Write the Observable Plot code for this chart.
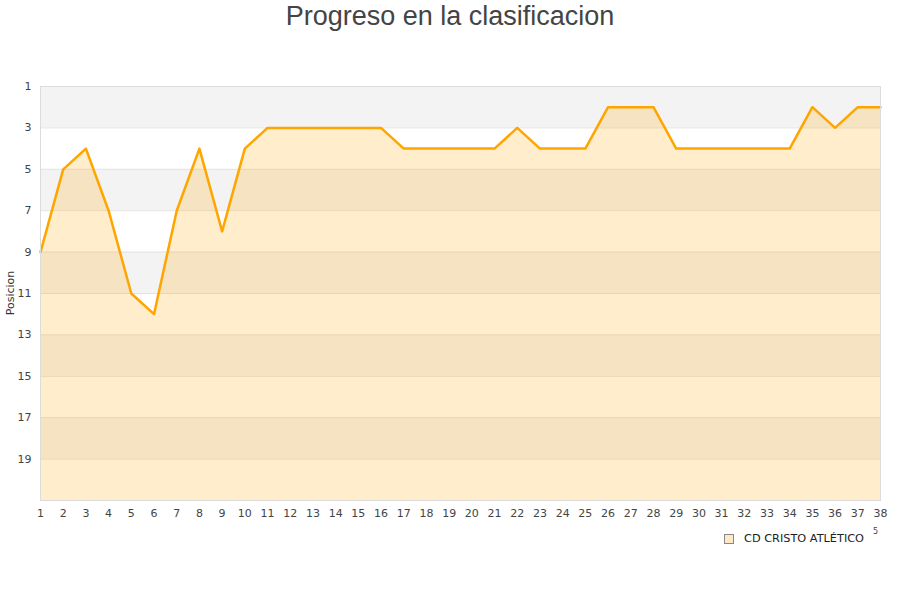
<!DOCTYPE html>
<html>
<head>
<meta charset="utf-8">
<script src="https://cdn.jsdelivr.net/npm/d3@7"></script>
<script src="https://cdn.jsdelivr.net/npm/@observablehq/plot@0.6"></script>
<style>
  body { margin: 0; background: #fff; }
  #wrap { position: relative; width: 900px; height: 600px; overflow: hidden; }
  #title { position: absolute; top: 0; left: 0; width: 900px; text-align: center; font-family: "Liberation Sans", Arial, sans-serif; font-size: 27px; color: #444; line-height: 32px; }
  #legend { position: absolute; left: 724px; top: 532px; font-family: "DejaVu Sans", sans-serif; font-size: 11.3px; color: #222; display: flex; align-items: center; }
  #legend .sw { width: 8px; height: 8px; background: #fde9c6; border: 1px solid #888; margin-right: 10px; }
  #extra { position: absolute; left: 873px; top: 527px; font-family: "DejaVu Sans", sans-serif; font-size: 8px; color: #444; }
  #ylabel { position: absolute; left: 10px; top: 293px; transform: translate(-50%, -50%) rotate(-90deg); font-family: "DejaVu Sans", sans-serif; font-size: 11px; color: #333; white-space: nowrap; }
  svg { position: absolute; top: 0; left: 0; }
</style>
</head>
<body>
<div id="wrap">
  <div id="chart"></div>
  <div id="title">Progreso en la clasificacion</div>
  <div id="ylabel">Posicion</div>
  <div id="legend"><div class="sw"></div><span>CD CRISTO ATLÉTICO</span></div>
  <div id="extra">5</div>
</div>
<script>
const jornadas = d3.range(1, 39);
const posiciones = [9,5,4,7,11,12,7,4,8,4,3,3,3,3,3,3,4,4,4,4,4,3,4,4,4,2,2,2,4,4,4,4,4,4,2,3,2,2];
const yTicks = [1,3,5,7,9,11,13,15,17,19];
const bandStarts = [1,5,9,13,17];
const yMin = 1, yMax = 21;
const teamName = "CD CRISTO ATLÉTICO";

const data = jornadas.map((j, i) => ({jornada: j, pos: posiciones[i]}));
const bands = bandStarts.map(s => ({y1: s, y2: s + 2}));

const chart = Plot.plot({
  width: 900,
  height: 600,
  marginTop: 86,
  marginBottom: 100,
  marginLeft: 40,
  marginRight: 20,
  style: { fontFamily: "DejaVu Sans, sans-serif", fontSize: "11px", color: "#444", background: "transparent" },
  x: { domain: [1, 38], ticks: jornadas, tickSize: 0, tickPadding: 9, label: null, tickFormat: d => d },
  y: { domain: [yMin, yMax], reverse: true, ticks: yTicks, tickSize: 0, tickPadding: 9, label: null },
  marks: [
    Plot.rect(bands, { x1: 1, x2: 38, y1: "y1", y2: "y2", fill: "#f3f3f3" }),
    Plot.ruleY(yTicks, { stroke: "#e3e3e3", strokeWidth: 1 }),
    Plot.areaY(data, { x: "jornada", y1: yMax, y2: "pos", fill: "#ffa500", fillOpacity: 0.2 }),
    Plot.line(data, { x: "jornada", y: "pos", stroke: "#ffa500", strokeWidth: 2.5 }),
    Plot.frame({ stroke: "#dcdcdc" })
  ]
});
document.getElementById("chart").appendChild(chart);
document.querySelector("#legend span").textContent = teamName;
</script>
</body>
</html>
